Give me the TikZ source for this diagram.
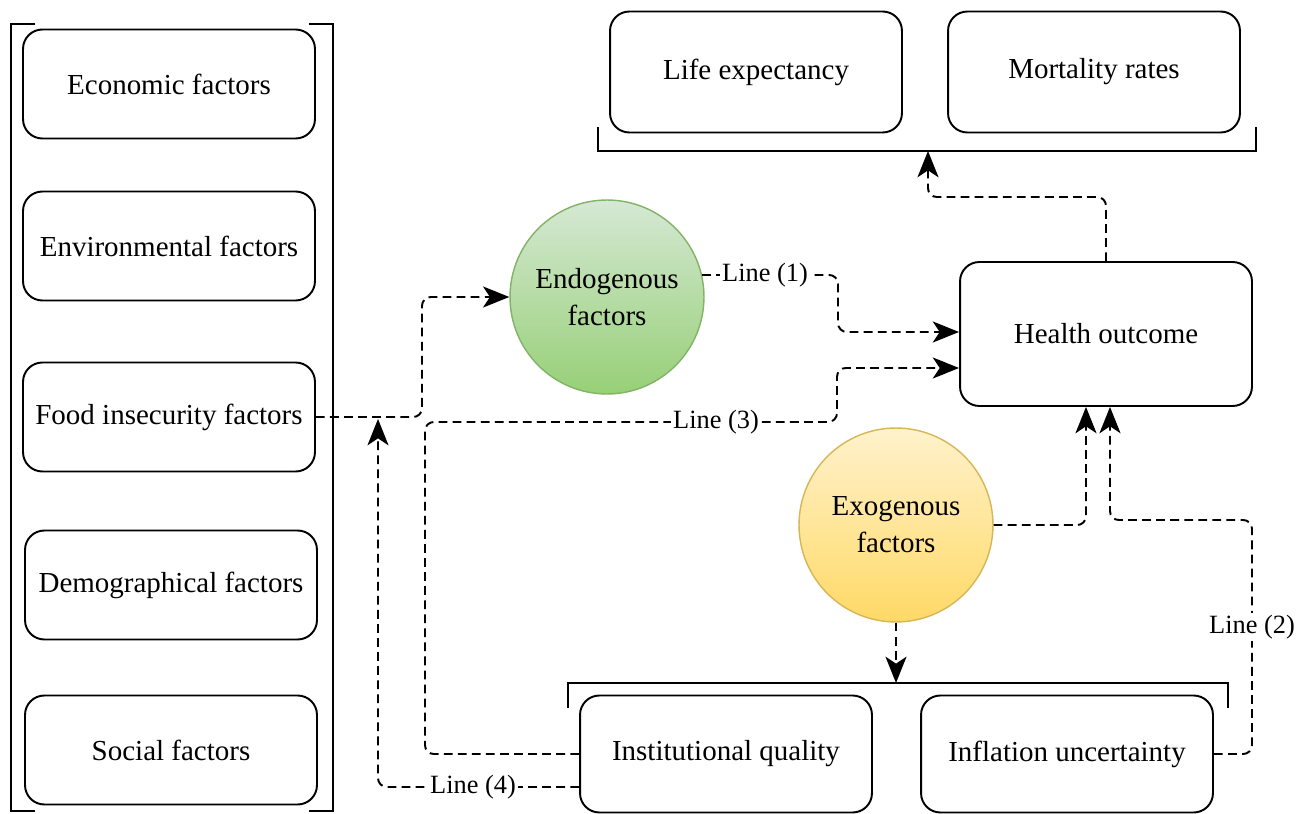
\documentclass[tikz,border=0pt]{standalone}
\usepackage{fontspec}
\setmainfont{Liberation Serif}
\usepackage{tikz}
\usetikzlibrary{arrows.meta}
\definecolor{endofill}{HTML}{D5E8D4}
\definecolor{endograd}{HTML}{97D077}
\definecolor{endoline}{HTML}{82B366}
\definecolor{exofill}{HTML}{FFF2CC}
\definecolor{exograd}{HTML}{FFD966}
\definecolor{exoline}{HTML}{D6B656}

\begin{document}
\begin{tikzpicture}[x=0.02cm, y=-0.02cm,
    box/.style={draw, line width=1.1pt, rounded corners=11pt, minimum width=5.84cm, minimum height=2.18cm, font=\fontsize{16.5}{19}\selectfont},
    ball/.style={circle, draw, line width=0.8pt, minimum size=3.88cm, align=center, font=\fontsize{16.5}{21}\selectfont},
    brace/.style={line width=1.3pt},
    flow/.style={line width=1.1pt, dash pattern=on 5pt off 3pt, rounded corners=5pt, -{Stealth[length=15pt,width=12pt,inset=4pt]}},
    tag/.style={fill=white, inner sep=1pt, font=\fontsize{15}{17}\selectfont}]
              \useasboundingbox (0,0) rectangle (1306,814);
              \node [box] (econ) at (169,84) {Economic factors};
              \node [box] (env) at (169,246) {Environmental factors};
              \node [box] (food) at (169,417) {Food insecurity factors};
              \node [box] (demo) at (171,585) {Demographical factors};
              \node [box] (social) at (171,750) {Social factors};
              \draw [brace] (35,24) -- (11,24) -- (11,811) -- (35,811);
              \draw [brace] (309,24) -- (333,24) -- (333,811) -- (309,811);
              \node [box, minimum height=2.42cm] (life) at (756,72) {Life expectancy};
              \node [box, minimum height=2.42cm] (mort) at (1094,72) {Mortality rates};
              \draw [brace] (598,127) -- (598,151) -- (1256,151) -- (1256,127);
              \coordinate (topbr) at (928,151);
              \node [box, minimum height=2.88cm] (health) at (1106,334) {Health outcome};
              \node [ball, top color=endofill, bottom color=endograd, draw=endoline] (endo) at (607,297) {Endogenous\\factors};
              \node [ball, top color=exofill, bottom color=exograd, draw=exoline] (exo) at (896,525) {Exogenous\\factors};
              \node [box, minimum height=2.34cm] (inst) at (726,754) {Institutional quality};
              \node [box, minimum height=2.34cm] (infl) at (1067,754) {Inflation uncertainty};
              \draw [brace] (568,708) -- (568,683) -- (1228,683) -- (1228,708);
              \coordinate (botbr) at (896,683);
              \coordinate (join) at (378,419);
              \draw [flow] (food.east) -- (422,417) |- (endo.west);
              \draw [flow] (endo.13) -- (838,275) |- (health.west |- 0,332);
              \node [tag] (lab1) at (765,275) {Line (1)};
              \draw [flow] (inst.west) -| (425,422) -| (837,368) -- (health.west |- 0,368);
              \node [tag] (lab3) at (716,422) {Line (3)};
              \draw [flow] (inst.west |- 0,787) -| (join);
              \node [tag] (lab4) at (473,787) {Line (4)};
              \draw [flow] (exo.south) -- (botbr);
              \draw [flow] (exo.east) -| (health.south -| 1086,0);
              \draw [flow] (infl.east) -| (1252,520) -| (health.south -| 1110,0);
              \node [tag] (lab2) at (1252,627) {Line (2)};
              \draw [flow] (health.north) |- (928,197) -- (topbr);
              \end{tikzpicture}
\end{document}
